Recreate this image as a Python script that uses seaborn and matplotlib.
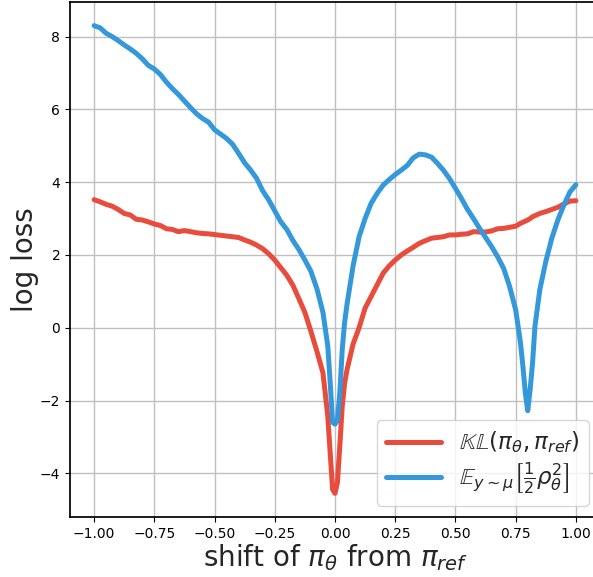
import numpy as np
import pandas as pd
import seaborn as sns
import matplotlib
matplotlib.use("Agg")
import matplotlib.pyplot as plt

# shift of pi_theta from pi_ref (shared x samples)
shift = [-1.0, -0.975, -0.95, -0.925, -0.9, -0.875, -0.85, -0.825, -0.8, -0.775,
         -0.75, -0.725, -0.7, -0.675, -0.65, -0.625, -0.6, -0.575, -0.55, -0.525,
         -0.5, -0.475, -0.45, -0.425, -0.4, -0.375, -0.35, -0.325, -0.3, -0.275,
         -0.25, -0.225, -0.2, -0.175, -0.15, -0.125, -0.1, -0.075, -0.05, -0.03,
         -0.02, -0.01, 0.0, 0.01, 0.02, 0.03, 0.04, 0.05, 0.075, 0.1,
         0.125, 0.15, 0.175, 0.2, 0.225, 0.25, 0.275, 0.3, 0.325, 0.35,
         0.375, 0.4, 0.425, 0.45, 0.475, 0.5, 0.525, 0.55, 0.575, 0.6,
         0.625, 0.65, 0.675, 0.7, 0.725, 0.75, 0.77, 0.78, 0.79, 0.8,
         0.81, 0.82, 0.83, 0.85, 0.875, 0.9, 0.925, 0.95, 0.975, 1.0]

kl_loss = [3.52, 3.46, 3.39, 3.34, 3.25, 3.14, 3.10, 2.98, 2.96, 2.91,
           2.85, 2.81, 2.72, 2.70, 2.64, 2.67, 2.64, 2.61, 2.59, 2.58,
           2.56, 2.54, 2.52, 2.50, 2.48, 2.41, 2.35, 2.27, 2.17, 2.03,
           1.86, 1.65, 1.44, 1.17, 0.80, 0.42, -0.10, -0.65, -1.24, -2.43,
           -3.43, -4.44, -4.55, -4.25, -3.25, -2.16, -1.52, -1.15, -0.45, 0.0,
           0.54, 0.86, 1.18, 1.50, 1.70, 1.86, 2.00, 2.11, 2.21, 2.32,
           2.39, 2.46, 2.48, 2.50, 2.55, 2.55, 2.57, 2.58, 2.64, 2.63,
           2.63, 2.66, 2.72, 2.73, 2.76, 2.79, 2.87, 2.90, 2.93, 2.96,
           3.00, 3.05, 3.08, 3.14, 3.19, 3.25, 3.31, 3.40, 3.48, 3.49]

rho_loss = [8.30, 8.24, 8.09, 8.00, 7.89, 7.77, 7.66, 7.54, 7.39, 7.21,
            7.11, 6.96, 6.75, 6.57, 6.41, 6.23, 6.05, 5.88, 5.75, 5.65,
            5.44, 5.32, 5.20, 5.04, 4.79, 4.53, 4.33, 4.10, 3.76, 3.51,
            3.21, 2.91, 2.70, 2.40, 2.15, 1.86, 1.55, 1.07, 0.42, -0.50,
            -1.50, -2.60, -2.65, -2.55, -1.78, -0.60, 0.15, 0.65, 1.70, 2.50,
            3.00, 3.42, 3.69, 3.92, 4.07, 4.21, 4.33, 4.46, 4.67, 4.77,
            4.75, 4.69, 4.52, 4.33, 4.10, 3.83, 3.55, 3.25, 3.00, 2.73,
            2.48, 2.23, 1.95, 1.63, 1.13, 0.49, -0.42, -1.06, -1.79, -2.28,
            -1.70, -0.97, 0.04, 1.04, 1.82, 2.46, 2.96, 3.37, 3.73, 3.93]

kl_label = r'$\mathbb{KL}(\pi_\theta, \pi_{ref})$'
rho_label = r'$\mathbb{E}_{y\sim\mu}\left[\frac{1}{2}\rho_\theta^2\right]$'

sns.set_theme(style="ticks", rc={"axes.grid": True, "grid.color": "#c0c0c0",
                                 "grid.linewidth": 1.0,
                                 "axes.edgecolor": "black",
                                 "xtick.color": "black", "ytick.color": "black",
                                 "xtick.major.size": 3.5, "ytick.major.size": 3.5,
                                 "xtick.major.width": 0.8, "ytick.major.width": 0.8})
plt.rcParams['font.family'] = ['DejaVu Sans']

fig = plt.figure(figsize=(5.93, 5.77), dpi=100)
ax = fig.add_axes([70 / 593, 60 / 577, 530 / 593, 515 / 577])

sns.lineplot(x=shift, y=kl_loss, ax=ax, color="#e74c3c", linewidth=3.6, label=kl_label)
sns.lineplot(x=shift, y=rho_loss, ax=ax, color="#3498db", linewidth=3.6, label=rho_label)

ax.set_xlim(-1.1, 1.1)
ax.set_ylim(-5.2, 8.95)
ax.set_xticks(np.arange(-1.0, 1.01, 0.25))
ax.set_yticks([-4, -2, 0, 2, 4, 6, 8])
ax.tick_params(labelsize=10, pad=3.5)
ax.set_xlabel(r'shift of $\pi_\theta$ from $\pi_{ref}$', fontsize=20, labelpad=1)
ax.set_ylabel('log loss', fontsize=20, labelpad=1)
ax.legend(loc="lower right", fontsize=16.5, handlelength=2.4, labelspacing=0.25,
          borderpad=0.4, frameon=True)

fig.savefig("out.png", dpi=100)
